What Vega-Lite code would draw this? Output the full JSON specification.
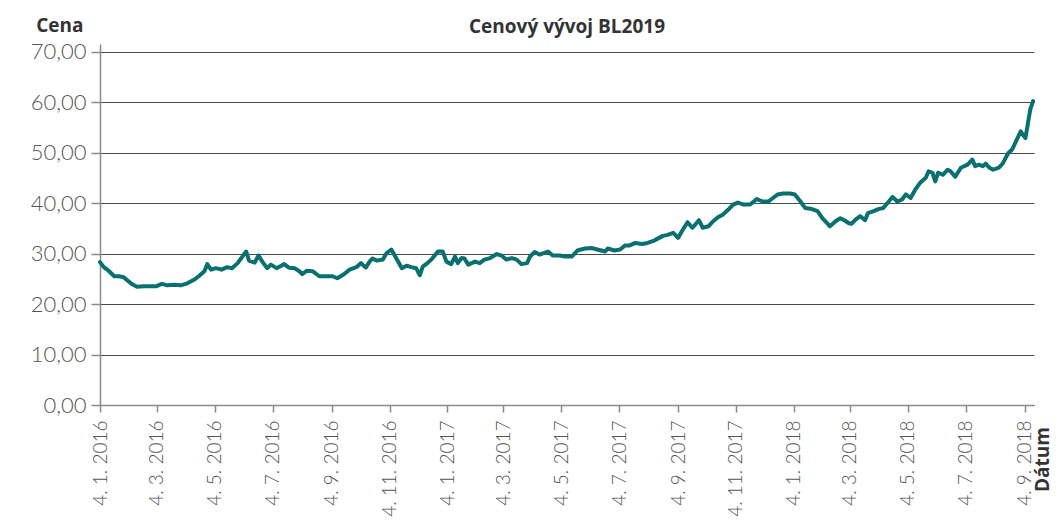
{
  "$schema": "https://vega.github.io/schema/vega-lite/v6.json",
  "width": 934,
  "height": 361,
  "autosize": "none",
  "padding": {"left": 100, "top": 44, "right": 27, "bottom": 115},
  "background": "white",
  "config": {
    "locale": {"number": {"decimal": ",", "thousands": " ", "grouping": [3], "currency": ["", " Kč"]}},
    "view": {"stroke": null},
    "font": "Lato"
  },
  "title": {
    "text": "Cenový vývoj BL2019",
    "fontSize": 19,
    "fontWeight": "bold",
    "font": "Open Sans",
    "color": "#333333",
    "anchor": "middle",
    "offset": -21
  },
  "data": {"values": [
    {"d":"2016-01-04","v":28.3},{"d":"2016-01-08","v":27.3},{"d":"2016-01-13","v":26.6},{"d":"2016-01-19","v":25.5},{"d":"2016-01-24","v":25.5},{"d":"2016-01-29","v":25.3},
    {"d":"2016-02-01","v":24.8},{"d":"2016-02-07","v":23.9},{"d":"2016-02-12","v":23.4},{"d":"2016-02-19","v":23.5},{"d":"2016-02-27","v":23.5},
    {"d":"2016-03-03","v":23.5},{"d":"2016-03-09","v":24.0},{"d":"2016-03-15","v":23.7},{"d":"2016-03-22","v":23.8},{"d":"2016-03-29","v":23.7},
    {"d":"2016-04-05","v":24.1},{"d":"2016-04-12","v":24.8},{"d":"2016-04-17","v":25.5},{"d":"2016-04-23","v":26.5},{"d":"2016-04-26","v":27.9},{"d":"2016-04-30","v":26.8},
    {"d":"2016-05-05","v":27.1},{"d":"2016-05-11","v":26.8},{"d":"2016-05-17","v":27.3},{"d":"2016-05-22","v":27.1},{"d":"2016-05-28","v":28.1},
    {"d":"2016-06-02","v":29.4},{"d":"2016-06-06","v":30.4},{"d":"2016-06-09","v":28.6},{"d":"2016-06-15","v":28.2},{"d":"2016-06-19","v":29.6},{"d":"2016-06-23","v":28.4},{"d":"2016-06-28","v":27.1},
    {"d":"2016-07-02","v":27.8},{"d":"2016-07-08","v":27.1},{"d":"2016-07-13","v":27.6},{"d":"2016-07-16","v":27.9},{"d":"2016-07-21","v":27.2},{"d":"2016-07-27","v":27.1},
    {"d":"2016-08-01","v":26.5},{"d":"2016-08-04","v":25.9},{"d":"2016-08-09","v":26.6},{"d":"2016-08-15","v":26.5},{"d":"2016-08-22","v":25.5},{"d":"2016-08-29","v":25.5},
    {"d":"2016-09-05","v":25.5},{"d":"2016-09-10","v":25.1},{"d":"2016-09-17","v":25.9},{"d":"2016-09-23","v":26.8},{"d":"2016-09-30","v":27.3},
    {"d":"2016-10-05","v":28.1},{"d":"2016-10-10","v":27.2},{"d":"2016-10-14","v":28.4},{"d":"2016-10-17","v":29.0},{"d":"2016-10-22","v":28.6},{"d":"2016-10-28","v":28.8},
    {"d":"2016-11-01","v":30.1},{"d":"2016-11-06","v":30.8},{"d":"2016-11-11","v":29.1},{"d":"2016-11-17","v":27.1},{"d":"2016-11-22","v":27.6},{"d":"2016-11-27","v":27.3},
    {"d":"2016-12-02","v":27.1},{"d":"2016-12-06","v":25.7},{"d":"2016-12-09","v":27.4},{"d":"2016-12-14","v":28.1},{"d":"2016-12-19","v":29.0},{"d":"2016-12-25","v":30.4},{"d":"2016-12-30","v":30.4},
    {"d":"2017-01-03","v":28.4},{"d":"2017-01-08","v":27.9},{"d":"2017-01-12","v":29.4},{"d":"2017-01-15","v":28.1},{"d":"2017-01-19","v":29.1},{"d":"2017-01-22","v":29.0},{"d":"2017-01-26","v":27.8},
    {"d":"2017-02-02","v":28.4},{"d":"2017-02-07","v":28.1},{"d":"2017-02-12","v":28.8},{"d":"2017-02-18","v":29.1},{"d":"2017-02-25","v":29.9},
    {"d":"2017-03-02","v":29.6},{"d":"2017-03-07","v":28.8},{"d":"2017-03-13","v":29.1},{"d":"2017-03-18","v":28.8},{"d":"2017-03-23","v":27.9},{"d":"2017-03-29","v":28.1},
    {"d":"2017-04-01","v":29.4},{"d":"2017-04-06","v":30.3},{"d":"2017-04-11","v":29.8},{"d":"2017-04-20","v":30.4},{"d":"2017-04-25","v":29.6},
    {"d":"2017-05-02","v":29.6},{"d":"2017-05-08","v":29.4},{"d":"2017-05-15","v":29.4},{"d":"2017-05-21","v":30.6},{"d":"2017-05-29","v":31.0},
    {"d":"2017-06-05","v":31.1},{"d":"2017-06-11","v":30.8},{"d":"2017-06-19","v":30.4},{"d":"2017-06-22","v":31.0},{"d":"2017-06-29","v":30.6},
    {"d":"2017-07-05","v":30.8},{"d":"2017-07-10","v":31.6},{"d":"2017-07-15","v":31.6},{"d":"2017-07-21","v":32.1},{"d":"2017-07-28","v":31.9},
    {"d":"2017-08-03","v":32.1},{"d":"2017-08-09","v":32.5},{"d":"2017-08-13","v":32.9},{"d":"2017-08-19","v":33.5},{"d":"2017-08-24","v":33.7},{"d":"2017-08-30","v":34.1},
    {"d":"2017-09-04","v":33.1},{"d":"2017-09-09","v":34.7},{"d":"2017-09-14","v":36.2},{"d":"2017-09-19","v":35.1},{"d":"2017-09-22","v":35.7},{"d":"2017-09-26","v":36.6},{"d":"2017-09-30","v":35.1},
    {"d":"2017-10-06","v":35.4},{"d":"2017-10-11","v":36.4},{"d":"2017-10-16","v":37.2},{"d":"2017-10-21","v":37.7},{"d":"2017-10-27","v":38.7},
    {"d":"2017-11-01","v":39.7},{"d":"2017-11-06","v":40.1},{"d":"2017-11-12","v":39.7},{"d":"2017-11-19","v":39.7},{"d":"2017-11-26","v":40.8},
    {"d":"2017-12-02","v":40.3},{"d":"2017-12-08","v":40.3},{"d":"2017-12-13","v":41.0},{"d":"2017-12-18","v":41.7},{"d":"2017-12-24","v":41.9},{"d":"2017-12-31","v":41.9},
    {"d":"2018-01-05","v":41.7},{"d":"2018-01-11","v":40.3},{"d":"2018-01-16","v":39.0},{"d":"2018-01-23","v":38.8},{"d":"2018-01-29","v":38.4},
    {"d":"2018-02-03","v":37.0},{"d":"2018-02-08","v":36.0},{"d":"2018-02-11","v":35.4},{"d":"2018-02-17","v":36.4},{"d":"2018-02-22","v":37.0},{"d":"2018-02-27","v":36.5},
    {"d":"2018-03-03","v":36.0},{"d":"2018-03-06","v":35.9},{"d":"2018-03-10","v":36.7},{"d":"2018-03-15","v":37.4},{"d":"2018-03-20","v":36.6},{"d":"2018-03-23","v":38.0},{"d":"2018-03-29","v":38.4},
    {"d":"2018-04-03","v":38.8},{"d":"2018-04-08","v":39.0},{"d":"2018-04-14","v":40.3},{"d":"2018-04-18","v":41.2},{"d":"2018-04-23","v":40.3},{"d":"2018-04-28","v":40.7},
    {"d":"2018-05-02","v":41.7},{"d":"2018-05-07","v":41.0},{"d":"2018-05-12","v":42.7},{"d":"2018-05-17","v":44.0},{"d":"2018-05-23","v":45.0},{"d":"2018-05-26","v":46.3},{"d":"2018-05-30","v":46.0},
    {"d":"2018-06-02","v":44.3},{"d":"2018-06-05","v":46.0},{"d":"2018-06-10","v":45.6},{"d":"2018-06-15","v":46.6},{"d":"2018-06-18","v":46.3},{"d":"2018-06-23","v":45.2},{"d":"2018-06-29","v":47.0},
    {"d":"2018-07-06","v":47.6},{"d":"2018-07-11","v":48.6},{"d":"2018-07-14","v":47.3},{"d":"2018-07-18","v":47.6},{"d":"2018-07-22","v":47.3},{"d":"2018-07-25","v":47.8},{"d":"2018-07-29","v":47.0},
    {"d":"2018-08-02","v":46.6},{"d":"2018-08-08","v":47.0},{"d":"2018-08-12","v":47.8},{"d":"2018-08-15","v":48.9},{"d":"2018-08-18","v":49.9},{"d":"2018-08-22","v":50.6},{"d":"2018-08-26","v":52.2},{"d":"2018-08-31","v":54.2},
    {"d":"2018-09-02","v":53.6},{"d":"2018-09-05","v":52.9},{"d":"2018-09-08","v":56.2},{"d":"2018-09-10","v":58.5},{"d":"2018-09-13","v":60.2}
  ]},
  "mark": {"type": "line", "color": "#08706f", "strokeWidth": 4, "strokeJoin": "round", "strokeCap": "round"},
  "encoding": {
    "x": {
      "field": "d",
      "type": "temporal",
      "scale": {"type": "utc", "domain": [{"year": 2016, "month": 1, "date": 4, "utc": true}, {"year": 2018, "month": 9, "date": 14, "utc": true}]},
      "axis": {
        "values": [
          {"year": 2016, "month": 1, "date": 4, "utc": true},
          {"year": 2016, "month": 3, "date": 4, "utc": true},
          {"year": 2016, "month": 5, "date": 4, "utc": true},
          {"year": 2016, "month": 7, "date": 4, "utc": true},
          {"year": 2016, "month": 9, "date": 4, "utc": true},
          {"year": 2016, "month": 11, "date": 4, "utc": true},
          {"year": 2017, "month": 1, "date": 4, "utc": true},
          {"year": 2017, "month": 3, "date": 4, "utc": true},
          {"year": 2017, "month": 5, "date": 4, "utc": true},
          {"year": 2017, "month": 7, "date": 4, "utc": true},
          {"year": 2017, "month": 9, "date": 4, "utc": true},
          {"year": 2017, "month": 11, "date": 4, "utc": true},
          {"year": 2018, "month": 1, "date": 4, "utc": true},
          {"year": 2018, "month": 3, "date": 4, "utc": true},
          {"year": 2018, "month": 5, "date": 4, "utc": true},
          {"year": 2018, "month": 7, "date": 4, "utc": true},
          {"year": 2018, "month": 9, "date": 4, "utc": true}
        ],
        "format": "%-d. %-m. %Y",
        "labelAngle": 270,
        "labelFontSize": 19,
        "labelFont": "Lato",
        "labelFontWeight": 300,
        "labelColor": "#555555",
        "labelPadding": 8,
        "labelOverlap": false,
        "labelBound": false,
        "labelFlush": false,
        "grid": false,
        "domainColor": "#8a8a8a",
        "domainWidth": 1.5,
        "tickColor": "#8a8a8a",
        "tickWidth": 1.5,
        "tickSize": 7,
        "title": "Dátum",
        "titleAngle": 270,
        "titleFont": "Open Sans",
        "titleFontSize": 19,
        "titleFontWeight": "bold",
        "titleColor": "#333333",
        "titleX": 942,
        "titleY": 54,
        "titleAlign": "center",
        "titleBaseline": "middle"
      }
    },
    "y": {
      "field": "v",
      "type": "quantitative",
      "scale": {"domain": [0, 71.5], "nice": false},
      "axis": {
        "values": [0, 10, 20, 30, 40, 50, 60, 70],
        "format": ".2f",
        "labelFontSize": 22,
        "labelFont": "Lato",
        "labelFontWeight": 300,
        "labelColor": "#555555",
        "labelPadding": 5,
        "gridColor": "#4a4a4a",
        "gridWidth": 1.2,
        "domainColor": "#8a8a8a",
        "domainWidth": 1.5,
        "tickColor": "#8a8a8a",
        "tickWidth": 1.5,
        "tickSize": 9,
        "title": "Cena",
        "titleAngle": 0,
        "titleFont": "Open Sans",
        "titleFontSize": 19,
        "titleFontWeight": "bold",
        "titleColor": "#333333",
        "titleX": -17,
        "titleY": -19,
        "titleAlign": "right",
        "titleBaseline": "middle"
      }
    }
  }
}
